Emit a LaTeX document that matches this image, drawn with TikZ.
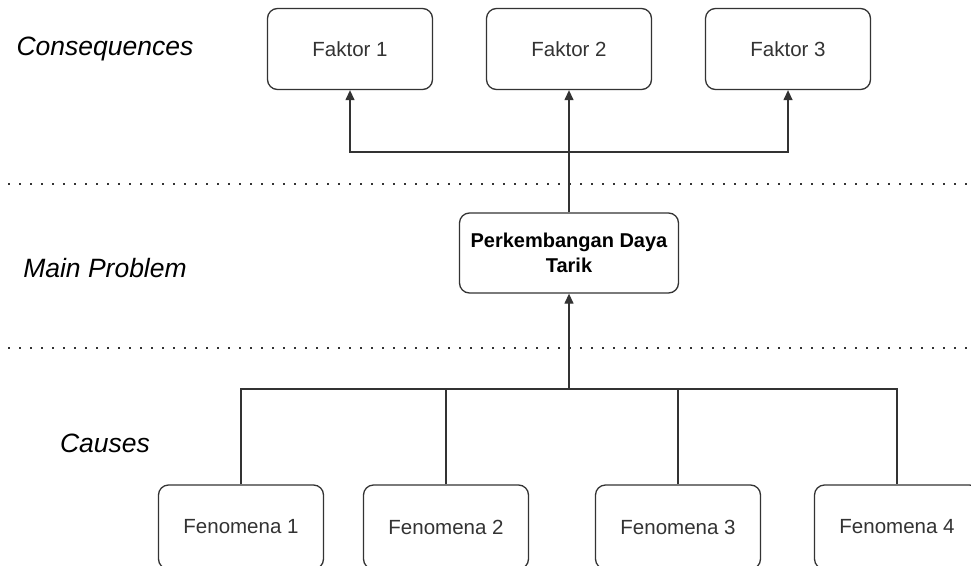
\documentclass[tikz,border=0pt]{standalone}
\usepackage{fontspec}
\setmainfont{Liberation Sans}
\usetikzlibrary{arrows.meta}
\definecolor{ink}{HTML}{333333}
\tikzset{
  box/.style={draw=ink, line width=1.3pt, rounded corners=10pt, fill=white,
    minimum width=165pt, minimum height=81pt, align=center, text=ink,
    font=\fontsize{20.5}{25}\selectfont, inner sep=2pt},
  mainbox/.style={box, minimum width=219pt, minimum height=80pt, text=black,
    font=\fontsize{20}{25}\selectfont\bfseries},
  lvl/.style={font=\fontsize{26.5}{30}\selectfont\itshape, text=black},
  conn/.style={draw=ink, line width=1.3pt},
  arr/.style={conn, -{Triangle[length=10pt,width=9pt]}},
  sep/.style={draw=ink, line width=2.2pt, dash pattern=on 2pt off 9pt}
}
\begin{document}
\begin{tikzpicture}[x=1pt,y=-1pt]
\useasboundingbox (0,0) rectangle (971,565);
\clip (0,0) rectangle (971,565);
\fill[white] (0,0) rectangle (971,565);
% separators
\coordinate (s1a) at (8,184);
\coordinate (s1b) at (971,184);
\coordinate (s2a) at (8,348);
\coordinate (s2b) at (971,348);
\draw[sep] (s1a) -- (s1b);
\draw[sep] (s2a) -- (s2b);
% level labels
\node[lvl] (lc) at (105,49) {Consequences};
\node[lvl] (lm) at (105,268) {Main Problem};
\node[lvl] (lk) at (105,443) {Causes};
% boxes
\node[box] (f1) at (350,49) {Faktor 1};
\node[box] (f2) at (569,49) {Faktor 2};
\node[box] (f3) at (788,49) {Faktor 3};
\node[mainbox] (m) at (569,253) {Perkembangan Daya\\Tarik};
\node[box, minimum height=84pt] (p1) at (241,527) {Fenomena 1};
\node[box, minimum height=84pt] (p2) at (446,527) {Fenomena 2};
\node[box, minimum height=84pt] (p3) at (678,527) {Fenomena 3};
\node[box, minimum height=84pt] (p4) at (897,527) {Fenomena 4};
% connectors top
\coordinate (tj) at (569,152);
\draw[arr] (m.north) -- (f2.south);
\draw[arr] (tj) -| (f1.south);
\draw[arr] (tj) -| (f3.south);
% connectors bottom
\coordinate (bj) at (569,389);
\draw[conn] (p1.north) -- (p1.north |- bj) -- (p4.north |- bj) -- (p4.north);
\draw[conn] (p2.north) -- (p2.north |- bj);
\draw[conn] (p3.north) -- (p3.north |- bj);
\draw[arr] (bj) -- (m.south);
\end{tikzpicture}
\end{document}
